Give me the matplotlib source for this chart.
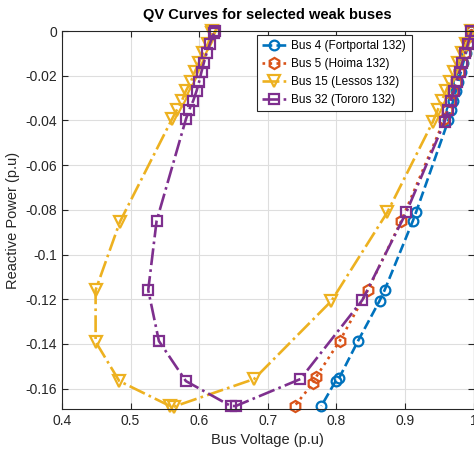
import numpy as np
import matplotlib
matplotlib.use("Agg")
import matplotlib.pyplot as plt

plt.rcParams['font.family'] = ['Liberation Sans', 'DejaVu Sans']

# QV data (V in p.u, Q in p.u)
bus4_v = [0.997, 0.996, 0.9924, 0.9889, 0.985, 0.9815, 0.9777, 0.9742, 0.9703, 0.9668, 0.9633,
          0.9165, 0.9116, 0.8704, 0.863, 0.8315, 0.8038, 0.799, 0.7782]
bus4_q = [0.0, -0.002, -0.0058, -0.0100, -0.0142, -0.0182, -0.0227, -0.0268, -0.0313, -0.0353, -0.0400,
          -0.0808, -0.0849, -0.1159, -0.1207, -0.1387, -0.1554, -0.1566, -0.1677]

bus5_v = [0.997, 0.996, 0.9917, 0.9876, 0.9831, 0.979, 0.9744, 0.9703, 0.9657, 0.9617, 0.9576,
          0.8947, 0.846, 0.8048, 0.770, 0.766, 0.7393]
bus5_q = [0.0, -0.002, -0.0058, -0.0100, -0.0142, -0.0182, -0.0227, -0.0268, -0.0313, -0.0353, -0.0395,
          -0.0849, -0.1159, -0.1387, -0.1550, -0.1575, -0.1677]

bus15_v = [0.997, 0.9895, 0.9838, 0.9775, 0.9719, 0.9655, 0.9598, 0.9535, 0.9478, 0.9407,
           0.8743, 0.7927, 0.680, 0.5635, 0.557, 0.4835, 0.449, 0.449, 0.4845,
           0.5602, 0.5675, 0.5747, 0.5806, 0.5878, 0.5937, 0.5995, 0.6053, 0.6126, 0.6184, 0.619]
bus15_q = [0.0, -0.0058, -0.0100, -0.0142, -0.0182, -0.0227, -0.0268, -0.0313, -0.0353, -0.0406,
           -0.0811, -0.1208, -0.1557, -0.1680, -0.1677, -0.1566, -0.1390, -0.1159, -0.0853,
           -0.0395, -0.0353, -0.0313, -0.0268, -0.0227, -0.0182, -0.0142, -0.0100, -0.0058, -0.001, 0.0]

bus32_v = [0.997, 0.9918, 0.9879, 0.9835, 0.9796, 0.9752, 0.9713, 0.9669, 0.963, 0.9578,
           0.902, 0.8378, 0.7476, 0.653, 0.6457, 0.5806, 0.5413, 0.5257, 0.5379,
           0.5806, 0.5854, 0.5912, 0.5962, 0.5999, 0.6034, 0.6068, 0.6107, 0.6155, 0.6215, 0.6228]
bus32_q = [0.0, -0.0058, -0.0100, -0.0142, -0.0182, -0.0227, -0.0268, -0.0313, -0.0353, -0.0406,
           -0.0811, -0.1204, -0.1557, -0.1678, -0.1677, -0.1566, -0.1387, -0.1159, -0.0850,
           -0.0395, -0.0353, -0.0313, -0.0268, -0.0227, -0.0182, -0.0142, -0.0100, -0.0058, -0.001, 0.0]

labels = ['Bus 4 (Fortportal 132)', 'Bus 5 (Hoima 132)', 'Bus 15 (Lessos 132)', 'Bus 32 (Tororo 132)']
colors = ['#0072BD', '#D95319', '#EDB120', '#7E2F8E']

fig = plt.figure(figsize=(4.74, 4.5), dpi=100)
ax = fig.add_axes([0.1308, 0.0911, 0.8682, 0.84])

ax.plot(bus4_v, bus4_q, '--o', color=colors[0], lw=1.9, ms=7, mew=1.6, mfc='none', label=labels[0], clip_on=False)
ax.plot(bus5_v, bus5_q, ':h', color=colors[1], lw=1.9, ms=8, mew=1.6, mfc='none', label=labels[1], clip_on=False)
ax.plot(bus15_v, bus15_q, '-.v', color=colors[2], lw=1.9, ms=9, mew=1.6, mfc='none', label=labels[2], clip_on=False)
ax.plot(bus32_v, bus32_q, '-.s', color=colors[3], lw=1.9, ms=6.5, mew=1.6, mfc='none', label=labels[3], clip_on=False)

ax.set_xlim(0.4, 1.0)
ax.set_ylim(-0.1691, 0)
ax.set_xticks(np.arange(0.4, 1.01, 0.1))
ax.set_xticklabels(['0.4', '0.5', '0.6', '0.7', '0.8', '0.9', '1'])
ax.set_yticks(np.arange(-0.16, 0.001, 0.02))
ax.set_yticklabels(['-0.16', '-0.14', '-0.12', '-0.1', '-0.08', '-0.06', '-0.04', '-0.02', '0'])

dark = '#262626'
ax.tick_params(direction='in', length=4, width=0.8, colors=dark, labelsize=10,
               top=True, right=True, labelcolor=dark)
for s in ax.spines.values():
    s.set_color(dark)
    s.set_linewidth(0.8)
ax.grid(True, color='#dedede', lw=0.8)
ax.set_axisbelow(True)

ax.set_xlabel('Bus Voltage (p.u)', fontsize=10.5, color=dark)
ax.set_ylabel('Reactive Power (p.u)', fontsize=10.5, color=dark)
ax.set_title('QV Curves for selected weak buses', fontsize=10.5, fontweight='bold', pad=9)

leg = ax.legend(loc='upper left', bbox_to_anchor=(0.473, 0.99), borderaxespad=0, fontsize=8.5,
                frameon=True, fancybox=False, edgecolor=dark, framealpha=1, handlelength=2.0,
                borderpad=0.45, labelspacing=0.5, handletextpad=0.5)
leg.get_frame().set_linewidth(0.8)

fig.savefig('out.png', dpi=100)
